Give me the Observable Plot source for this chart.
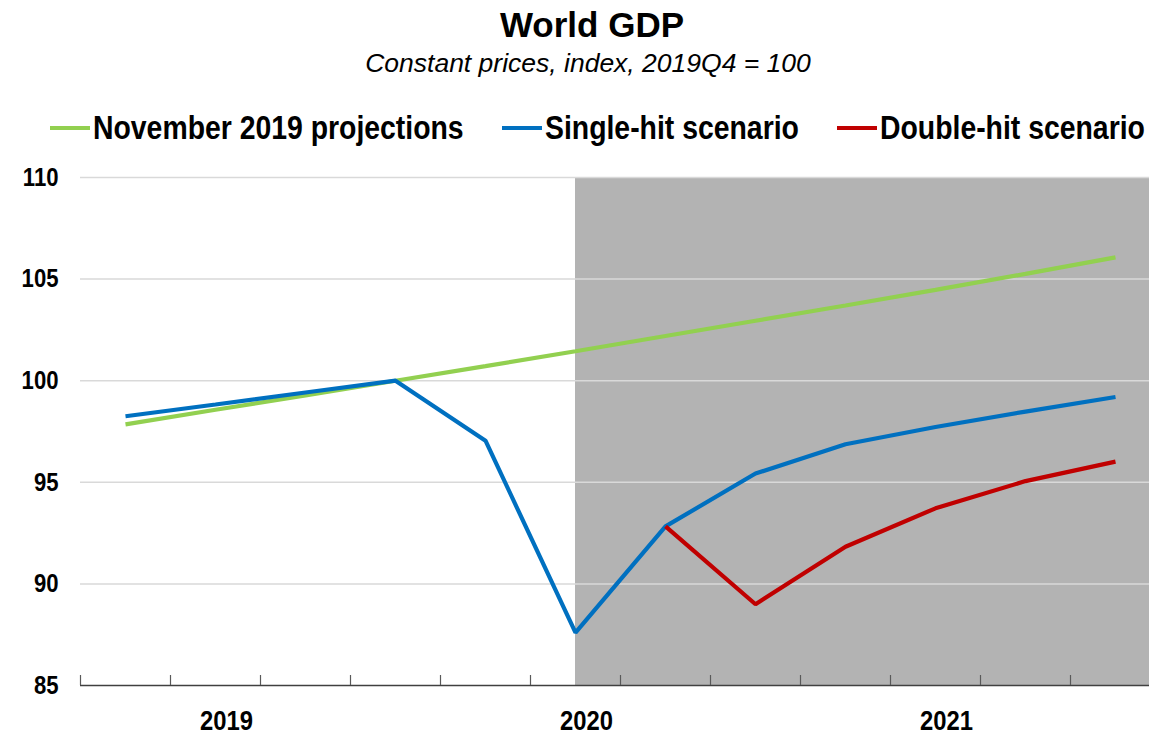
<!DOCTYPE html>
<html>
<head>
<meta charset="utf-8">
<script src="https://cdn.jsdelivr.net/npm/d3@7"></script>
<script src="https://cdn.jsdelivr.net/npm/@observablehq/plot@0.6"></script>
<style>
  html, body { margin: 0; padding: 0; background: #fff; overflow: hidden; }
  #wrap { position: relative; width: 1149px; height: 735px; overflow: hidden; font-family: "Liberation Sans", Arial, sans-serif; color: #000; }
  #title { position: absolute; top: 7px; left: 0; width: 1184px; text-align: center; font-weight: bold; font-size: 35px; line-height: 35px; }
  #subtitle { position: absolute; top: 50px; left: 0; width: 1176px; text-align: center; font-style: italic; font-size: 26.5px; line-height: 26.5px; }
  .item { position: absolute; top: 111px; height: 34px; display: flex; align-items: center; white-space: nowrap; font-weight: bold; font-size: 33px; line-height: 34px; }
  .sw { width: 40px; height: 4px; margin-right: 3px; flex: none; }
  .lt { display: inline-block; transform: scaleX(0.86); transform-origin: 0 50%; }
  #chart { position: absolute; top: 150px; left: 0; }
</style>
</head>
<body>
<div id="wrap">
  <div id="title">World GDP</div>
  <div id="subtitle">Constant prices, index, 2019Q4 = 100</div>
  <div id="legend"></div>
  <div id="chart"></div>
</div>
<script>
// ---- data ----
const quarters = ["2019Q1","2019Q2","2019Q3","2019Q4","2020Q1","2020Q2","2020Q3","2020Q4","2021Q1","2021Q2","2021Q3","2021Q4"];
const projections = [97.85, 98.57, 99.28, 100.0, 100.72, 101.45, 102.2, 102.95, 103.7, 104.47, 105.26, 106.07];
const singleHit   = [98.25, 98.83, 99.42, 100.0, 97.05, 87.6, 92.83, 95.43, 96.87, 97.72, 98.48, 99.2];
const doubleHit   = [null, null, null, null, null, null, 92.83, 89.0, 91.83, 93.72, 95.06, 96.02];
const seriesNames  = ["November 2019 projections", "Single-hit scenario", "Double-hit scenario"];
const seriesColors = ["#92D050", "#0070C0", "#C00000"];
const yTicks = [85, 90, 95, 100, 105, 110];
const yearLabels = ["2019", "2020", "2021"];
const shadeFrom = "2020Q2";

// ---- layout (not data) ----
const legendLeft = [50, 502, 837];

// ---- build table ----
const seriesValues = [projections, singleHit, doubleHit];
const rows = [];
seriesValues.forEach((vals, s) => {
  vals.forEach((v, i) => {
    if (v != null) rows.push({q: i, value: v, series: seriesNames[s]});
  });
});

// legend
const legend = document.getElementById("legend");
seriesNames.forEach((name, i) => {
  const it = document.createElement("div");
  it.className = "item";
  it.style.left = legendLeft[i] + "px";
  const sw = document.createElement("span");
  sw.className = "sw";
  sw.style.background = seriesColors[i];
  const tx = document.createElement("span");
  tx.className = "lt";
  tx.textContent = name;
  it.appendChild(sw); it.appendChild(tx);
  legend.appendChild(it);
});

const n = quarters.length;
const boundaries = d3.range(n).map(i => i - 0.5);
const yearPos = yearLabels.map(y => quarters.indexOf(y + "Q2"));
const shade = [{x1: quarters.indexOf(shadeFrom), x2: n - 0.5}];

const chart = Plot.plot({
  width: 1149,
  height: 585,
  marginTop: 27,
  marginBottom: 50,
  marginLeft: 80,
  marginRight: -11,
  x: {domain: [-0.5, n - 0.5], axis: null},
  y: {domain: [yTicks[0], yTicks[yTicks.length - 1]]},
  color: {domain: seriesNames, range: seriesColors},
  style: {fontFamily: "'Liberation Sans', Arial, sans-serif", fontSize: "24px", background: "transparent", color: "#000"},
  marks: [
    Plot.rect(shade, {x1: "x1", x2: "x2", fill: "#b3b3b3"}),
    Plot.ruleY(yTicks.slice(1), {stroke: "#d9d9d9", strokeWidth: 1.5}),
    Plot.ruleY([yTicks[0]], {stroke: "#404040", strokeWidth: 1.5}),
    Plot.ruleX(boundaries, {x: d => d, y1: yTicks[0], y2: yTicks[0], insetTop: -10, stroke: "#595959", strokeWidth: 1.2}),
    Plot.axisY({ticks: yTicks, tickSize: 0, tickPadding: 22, label: null, fontSize: 26, fontWeight: "bold"}),
    Plot.text(yearLabels, {x: (d, i) => yearPos[i], y: yTicks[0], text: d => d, dy: 36, dx: 11, fontSize: 28, fontWeight: "bold"}),
    Plot.line(rows, {x: "q", y: "value", z: "series", stroke: "series", strokeWidth: 4.2, strokeLinejoin: "miter", strokeLinecap: "butt"})
  ]
});
document.getElementById("chart").appendChild(chart);

// condense the axis and year label glyphs (narrow bold look)
d3.select(chart).selectAll("text").each(function() {
  const w = this.getComputedTextLength();
  if (w > 0) {
    this.setAttribute("textLength", (w * 0.85).toFixed(1));
    this.setAttribute("lengthAdjust", "spacingAndGlyphs");
  }
});
</script>
</body>
</html>
